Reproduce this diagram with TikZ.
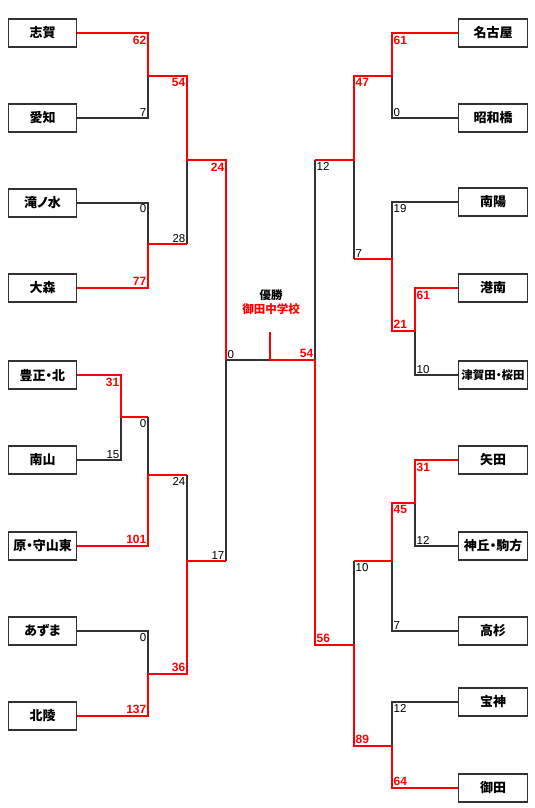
\documentclass[tikz,border=0pt]{standalone}
\usepackage{fontspec}
\setmainfont{Noto Sans CJK JP}[RawFeature=+palt]
\newfontfamily\numfont{Liberation Sans}
\definecolor{winred}{RGB}{255,0,0}
\definecolor{linegray}{RGB}{50,50,50}

\begin{document}
\begin{tikzpicture}[x=1pt,y=-1pt,
    team/.style={draw=linegray,line width=1.3pt,minimum width=68.5pt,minimum height=28pt,
      inner sep=0pt,font=\fontsize{13}{13}\selectfont\bfseries},
    wonline/.style={winred,line width=2pt},
    lostline/.style={linegray,line width=1.1pt},
    wsc/.style={font=\numfont\fontsize{12}{12}\selectfont\bfseries,text=winred,inner sep=1.5pt},
    lsc/.style={font=\numfont\fontsize{11.5}{11.5}\selectfont,inner sep=1.5pt}]
  \useasboundingbox (0,0) rectangle (535,808);

  % left teams
  \node[team] (shiga)      at (42.5,33)  {志賀};
  \node[team] (aichi)      at (42.5,118) {愛知};
  \node[team] (takinomizu) at (42.5,203) {滝ノ水};
  \node[team] (omori)      at (42.5,288) {大森};
  \node[team] (hosho)      at (42.5,375) {豊正・北};
  \node[team] (nanzan)     at (42.5,460) {南山};
  \node[team] (hara)       at (42.5,546) {原・守山東};
  \node[team] (azuma)      at (42.5,631) {あずま};
  \node[team] (hokuryo)    at (42.5,716) {北陵};
  % right teams
  \node[team] (nagoya)     at (493,33)  {名古屋};
  \node[team] (showa)      at (493,118) {昭和橋};
  \node[team] (nanyo)      at (493,202) {南陽};
  \node[team] (konan)      at (493,288) {港南};
  \node[team,font=\fontsize{11.5}{11.5}\selectfont\bfseries] (tsuga) at (493,375) {津賀田・桜田};
  \node[team] (yada)       at (493,460) {矢田};
  \node[team] (kamioka)    at (493,546) {神丘・駒方};
  \node[team] (takasugi)   at (493,631) {高杉};
  \node[team] (hojin)      at (493,702) {宝神};
  \node[team] (onda)       at (493,788) {御田};

  % champion
  \node[font=\fontsize{11.5}{11.5}\selectfont\bfseries] (yusho) at (271,295) {優勝};
  \node[font=\fontsize{11.5}{11.5}\selectfont\bfseries,text=winred] (champ) at (271,309) {御田中学校};

  % match points
  \coordinate (m1) at (148,76);
  \coordinate (m2) at (148,244);
  \coordinate (m3) at (187,160);
  \coordinate (m4) at (121,417);
  \coordinate (m5) at (148,475);
  \coordinate (m6) at (148,674);
  \coordinate (m7) at (187,561);
  \coordinate (m8) at (226,360);
  \coordinate (fin) at (270,360);
  \coordinate (crown) at (270,332);
  \coordinate (n1) at (392,76);
  \coordinate (n2) at (415,331);
  \coordinate (n3) at (392,259);
  \coordinate (n4) at (354,160);
  \coordinate (n5) at (415,503);
  \coordinate (n6) at (392,561);
  \coordinate (n7) at (392,746);
  \coordinate (n8) at (354,645);
  \coordinate (n9) at (315,360);

  % losers
  \draw[lostline] (aichi.east) -| (m1);
  \draw[lostline] (takinomizu.east) -| (m2);
  \draw[lostline] (m2 -| m3) -- (m3);
  \draw[lostline] (nanzan.east) -| (m4);
  \draw[lostline] (m4 -| m5) -- (m5);
  \draw[lostline] (m5 -| m7) -- (m7);
  \draw[lostline] (azuma.east) -| (m6);
  \draw[lostline] (m7 -| m8) -- (m8) -- (fin);
  \draw[lostline] (showa.west) -| (n1);
  \draw[lostline] (nanyo.west) -| (n3);
  \draw[lostline] (tsuga.west) -| (n2);
  \draw[lostline] (n3 -| n4) -- (n4);
  \draw[lostline] (n4 -| n9) -- (n9);
  \draw[lostline] (kamioka.west) -| (n5);
  \draw[lostline] (takasugi.west) -| (n6);
  \draw[lostline] (n6 -| n8) -- (n8);
  \draw[lostline] (hojin.west) -| (n7);

  % winners
  \draw[wonline] (shiga.east) -| (m1) -| (m3) -| (m8);
  \draw[wonline] (omori.east) -| (m2) -- (m2 -| m3);
  \draw[wonline] (hosho.east) -| (m4) -- (m4 -| m5);
  \draw[wonline] (hara.east) -| (m5) -- (m5 -| m7);
  \draw[wonline] (hokuryo.east) -| (m6) -| (m7) -- (m7 -| m8);
  \draw[wonline] (nagoya.west) -| (n1) -| (n4) -- (n4 -| n9);
  \draw[wonline] (konan.west) -| (n2) -| (n3) -- (n3 -| n4);
  \draw[wonline] (yada.west) -| (n5) -| (n6) -- (n6 -| n8);
  \draw[wonline] (onda.west) -| (n7) -| (n8) -| (n9) -- (fin) -- (crown);

  % scores, left
  \node[wsc,anchor=north east] at (148,34)  {62};
  \node[lsc,anchor=south east] at (148,118) {7};
  \node[wsc,anchor=north east] at (187,77)  {54};
  \node[lsc,anchor=south east] at (187,244) {28};
  \node[lsc,anchor=north east] at (148,203) {0};
  \node[wsc,anchor=south east] at (148,287) {77};
  \node[wsc,anchor=north east] at (226,161) {24};
  \node[wsc,anchor=north east] at (121,376) {31};
  \node[lsc,anchor=south east] at (121,460) {15};
  \node[lsc,anchor=north east] at (148,418) {0};
  \node[wsc,anchor=south east] at (148,545) {101};
  \node[lsc,anchor=north east] at (187,476) {24};
  \node[lsc,anchor=north east] at (148,632) {0};
  \node[wsc,anchor=south east] at (148,715) {137};
  \node[wsc,anchor=south east] at (187,673) {36};
  \node[lsc,anchor=south east] at (226,561) {17};
  \node[lsc,anchor=south west] at (226,360) {0};
  \node[wsc,anchor=south east] at (315,359) {54};
  % scores, right
  \node[wsc,anchor=north west] at (392,34)  {61};
  \node[lsc,anchor=south west] at (392,118) {0};
  \node[wsc,anchor=north west] at (354,77)  {47};
  \node[lsc,anchor=north west] at (315,161) {12};
  \node[lsc,anchor=north west] at (392,203) {19};
  \node[lsc,anchor=south west] at (354,259) {7};
  \node[wsc,anchor=north west] at (415,289) {61};
  \node[wsc,anchor=south west] at (392,330) {21};
  \node[lsc,anchor=south west] at (415,375) {10};
  \node[wsc,anchor=north west] at (415,461) {31};
  \node[lsc,anchor=south west] at (415,546) {12};
  \node[wsc,anchor=north west] at (392,504) {45};
  \node[lsc,anchor=north west] at (354,562) {10};
  \node[lsc,anchor=south west] at (392,631) {7};
  \node[wsc,anchor=south west] at (315,644) {56};
  \node[lsc,anchor=north west] at (392,703) {12};
  \node[wsc,anchor=south west] at (354,745) {89};
  \node[wsc,anchor=south west] at (392,787) {64};
\end{tikzpicture}
\end{document}
